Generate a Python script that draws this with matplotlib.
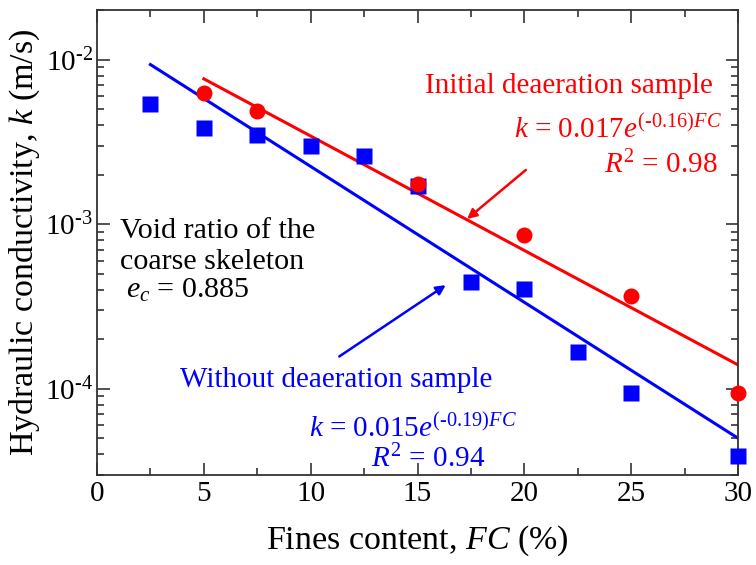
import matplotlib
matplotlib.use("Agg")
import matplotlib.pyplot as plt
import numpy as np
from matplotlib.ticker import FixedLocator, FixedFormatter, LogLocator, NullFormatter, MultipleLocator

plt.rcParams['font.family'] = ['Liberation Serif', 'DejaVu Serif']
plt.rcParams['mathtext.fontset'] = 'custom'
plt.rcParams['mathtext.rm'] = 'Liberation Serif'
plt.rcParams['mathtext.it'] = 'Liberation Serif:italic'

# measured permeability, without deaeration (squares)
fc_without = [2.5, 5, 7.5, 10, 12.5, 15, 17.5, 20, 22.5, 25, 30]
k_without = [5.35e-3, 3.83e-3, 3.47e-3, 2.98e-3, 2.6e-3, 1.71e-3,
             4.43e-4, 4.02e-4, 1.67e-4, 9.45e-5, 3.89e-5]

# measured permeability, initial deaeration (circles)
fc_initial = [5, 7.5, 15, 20, 25, 30]
k_initial = [6.3e-3, 4.85e-3, 1.76e-3, 8.65e-4, 3.65e-4, 9.45e-5]

# exponential fits k = a * exp(b * FC)
fit_initial = (0.017, -0.16, 5, 30)
fit_without = (0.015, -0.19, 2.5, 30)

y_ticks = [1e-4, 1e-3, 1e-2]
y_ticklabels = [r'10$^{\text{-4}}$', r'10$^{\text{-3}}$', r'10$^{\text{-2}}$']

fig = plt.figure(figsize=(7.56, 5.65), dpi=100)
ax = fig.add_axes([0.1283, 0.1593, 0.8479, 0.823])

for a, b, x0, x1, col in [(*fit_initial, 'red'), (*fit_without, 'blue')]:
    xf = np.linspace(x0, x1, 50)
    ax.plot(xf, a * np.exp(b * xf), color=col, lw=2.2, zorder=2)

ax.plot(fc_without, k_without, 's', color='blue', ms=11.5, mec='none', zorder=3, clip_on=False)
ax.plot(fc_initial, k_initial, 'o', color='red', ms=11.5, mec='none', zorder=4, clip_on=False)

ax.set_yscale('log')
ax.set_xlim(0, 30)
ax.set_ylim(3e-5, 2e-2)

ax.xaxis.set_major_locator(MultipleLocator(5))
ax.xaxis.set_minor_locator(MultipleLocator(2.5))
ax.yaxis.set_major_locator(FixedLocator(y_ticks))
ax.yaxis.set_major_formatter(FixedFormatter(y_ticklabels))
ax.yaxis.set_minor_locator(LogLocator(base=10, subs=np.arange(2, 10)))
ax.yaxis.set_minor_formatter(NullFormatter())

ax.tick_params(which='both', direction='in', top=True, right=True,
               color='#333333', width=1.2, labelsize=21)
ax.tick_params(axis='x', pad=4)
ax.tick_params(axis='y', pad=3)
ax.tick_params(which='major', length=9)
ax.tick_params(which='minor', length=5)
for s in ax.spines.values():
    s.set_color('#333333')
    s.set_linewidth(1.3)

ax.set_xlabel(r'Fines content, $FC$ (%)', fontsize=24.5, labelpad=12)
ax.set_ylabel(r'Hydraulic conductivity, $k$ (m/s)', fontsize=24.5, labelpad=2)

fs = 21
ax.text(28.83, 6.24e-3, 'Initial deaeration sample', color='red', fontsize=fs, ha='right')
ax.text(29.25, 3.34e-3, r'$k$ = 0.017$e^{(\text{-}0.16)FC}$', color='red', fontsize=fs, ha='right')
ax.text(29.06, 2.05e-3, r'$R^2$ = 0.98', color='red', fontsize=fs, ha='right')
ax.annotate('', xy=(17.22, 1.05e-3), xytext=(20.17, 2.19e-3),
            arrowprops=dict(arrowstyle='-|>', color='red', lw=1.8, mutation_scale=14))

ax.text(1.08, 8.29e-4, 'Void ratio of the', fontsize=21.6)
ax.text(1.08, 5.38e-4, 'coarse skeleton', fontsize=21.6)
ax.text(1.35, 3.55e-4, r'$e_c$ = 0.885', fontsize=21.6)

ax.text(3.88, 1.028e-4, 'Without deaeration sample', color='blue', fontsize=fs)
ax.text(19.65, 5.13e-5, r'$k$ = 0.015$e^{(\text{-}0.19)FC}$', color='blue', fontsize=fs, ha='right')
ax.text(18.16, 3.33e-5, r'$R^2$ = 0.94', color='blue', fontsize=fs, ha='right')
ax.annotate('', xy=(16.43, 4.36e-4), xytext=(11.23, 1.54e-4),
            arrowprops=dict(arrowstyle='-|>', color='blue', lw=1.8, mutation_scale=14))

fig.savefig('out.png', dpi=100)
